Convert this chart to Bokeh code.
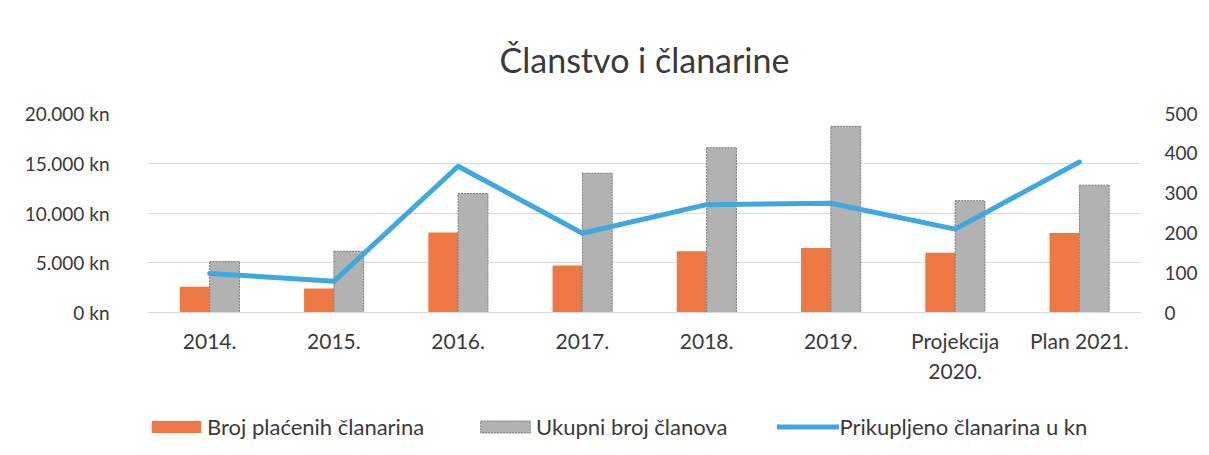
from bokeh.plotting import figure
from bokeh.layouts import column
from bokeh.models import (ColumnDataSource, FactorRange, Range1d, LinearAxis,
                          FixedTicker, Legend, LegendItem)
from bokeh.transform import dodge
from bokeh.embed import file_html
from bokeh.resources import INLINE

# ---- data ----
categories = ["2014.", "2015.", "2016.", "2017.", "2018.", "2019.", "Projekcija\n2020.", "Plan 2021."]
paid_fees = [65, 60, 201, 118, 154, 162, 150, 200]          # Broj plaćenih članarina
total_members = [128, 154, 299, 350, 414, 468, 281, 320]    # Ukupni broj članova
collected_kn = [3930, 3130, 14700, 7970, 10840, 10980, 8380, 15120]  # Prikupljeno članarina u kn

left_ticks = [0, 5000, 10000, 15000, 20000]
left_labels = ["0 kn", "5.000 kn", "10.000 kn", "15.000 kn", "20.000 kn"]
right_ticks = [0, 100, 200, 300, 400, 500]

title_text = "Članstvo i članarine"
series_names = ["Broj plaćenih članarina", "Ukupni broj članova", "Prikupljeno članarina u kn"]

FONT = "Lato"
TXT = "#3a3a3a"
ORANGE = "#ED7843"
GRAY = "#B2B2B2"
BLUE = "#3FA8DF"
GRAY_EDGE = "#7a7a7a"

src = ColumnDataSource(dict(cat=categories, paid=paid_fees, total=total_members, kn=collected_kn))

W = 1200
p = figure(width=W, height=392, x_range=FactorRange(*categories, range_padding=0),
           y_range=Range1d(0, 20000), output_backend="svg", toolbar_location=None,
           min_border_left=147, min_border_right=W - 1144, min_border_top=113, min_border_bottom=80)
p.extra_y_ranges = {"cnt": Range1d(0, 500)}
p.outline_line_color = None
p.background_fill_color = "white"
p.border_fill_color = "white"

p.title.text = title_text
p.title.align = "center"
p.title.text_font = FONT
p.title.text_font_size = "34px"
p.title.text_font_style = "normal"
p.title.text_color = TXT
p.title.standoff = 68


def draw_series(fig, y_range_name):
    b1 = fig.vbar(x=dodge("cat", -0.12, range=fig.x_range), top="paid", width=0.24, source=src,
                  y_range_name=y_range_name, fill_color=ORANGE, line_color=None)
    b2 = fig.vbar(x=dodge("cat", 0.12, range=fig.x_range), top="total", width=0.24, source=src,
                  y_range_name=y_range_name, fill_color=GRAY, line_color=GRAY_EDGE,
                  line_width=1, line_dash="2 1")
    ln = fig.line(x="cat", y="kn", source=src, line_color=BLUE, line_width=5,
                  line_join="round", line_cap="round")
    return b1, b2, ln


draw_series(p, "cnt")

# left axis
ya = p.yaxis[0]
ya.ticker = FixedTicker(ticks=left_ticks)
ya.major_label_overrides = {t: l for t, l in zip(left_ticks, left_labels)}
ya.axis_line_color = None
ya.major_tick_line_color = None
ya.minor_tick_line_color = None
ya.major_tick_out = 0
ya.major_tick_in = 0
ya.major_label_standoff = 38
ya.major_label_text_font = FONT
ya.major_label_text_font_size = "19px"
ya.major_label_text_color = TXT

# right axis
ra = LinearAxis(y_range_name="cnt", ticker=FixedTicker(ticks=right_ticks))
ra.axis_line_color = None
ra.major_tick_line_color = None
ra.minor_tick_line_color = None
ra.major_tick_out = 0
ra.major_tick_in = 0
ra.major_label_standoff = 23
ra.major_label_text_font = FONT
ra.major_label_text_font_size = "19px"
ra.major_label_text_color = TXT
p.add_layout(ra, "right")

# x axis
xa = p.xaxis[0]
xa.axis_line_color = "#D9D9D9"
xa.major_tick_line_color = None
xa.minor_tick_line_color = None
xa.major_tick_out = 0
xa.major_tick_in = 0
xa.major_label_standoff = 15
xa.major_label_text_font = FONT
xa.major_label_text_font_size = "21px"
xa.major_label_text_color = TXT

p.xgrid.grid_line_color = None
p.ygrid.grid_line_color = "#DCDCDC"
p.ygrid.grid_line_width = 1

# legend strip: hidden copies of the series, only their legend entries show
lg = figure(width=W, height=58, x_range=FactorRange(*categories, range_padding=0),
            y_range=Range1d(-2000, -1999), output_backend="svg", toolbar_location=None,
            x_axis_location=None, y_axis_location=None,
            min_border_left=0, min_border_right=0, min_border_top=0, min_border_bottom=0)
lg.extra_y_ranges = {"cnt": Range1d(-2000, -1999)}
lg.outline_line_color = None
lg.grid.grid_line_color = None
lg.border_fill_color = "white"
g1, g2, g3 = draw_series(lg, "cnt")
for g in (g1, g2, g3):
    g.visible = False

legend = Legend(items=[LegendItem(label=series_names[0], renderers=[g1]),
                       LegendItem(label=series_names[1], renderers=[g2]),
                       LegendItem(label=series_names[2], renderers=[g3])],
                orientation="horizontal", location=(-2, 10),
                label_text_font=FONT, label_text_font_size="22px", label_text_color=TXT,
                glyph_width=62, glyph_height=15, label_standoff=0, spacing=50,
                padding=0, margin=0, border_line_color=None, background_fill_alpha=0,
                inactive_fill_alpha=0)
lg.add_layout(legend, "center")

layout = column(p, lg, spacing=0)
open("out.html", "w").write(file_html(layout, INLINE))
